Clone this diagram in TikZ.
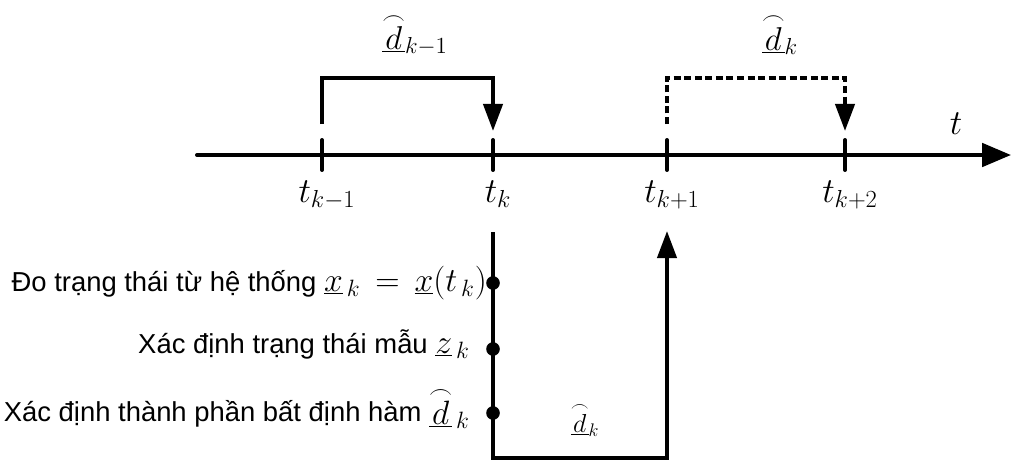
\RequirePackage{fix-cm}
\documentclass[tikz,border=0pt]{standalone}
\usepackage{fontspec}
\newfontfamily\vnfont{Liberation Sans}
\usetikzlibrary{arrows.meta}
\newcommand{\dhat}{\underline{\stackrel{\frown}{d}}}
\newcommand{\lmath}[1]{{\fontsize{24}{28}\selectfont$#1$}}

\begin{document}
\begin{tikzpicture}[x=0.25mm,y=-0.25mm,
  axis/.style={line width=2.8pt,line cap=round,-{Triangle[length=7.2mm,width=5.8mm]}},
  tickmark/.style={line width=2.8pt,line cap=round},
  link/.style={line width=2.8pt,-{Triangle[length=6.8mm,width=4.8mm]}},
  dot/.style={circle,fill=black,inner sep=0pt,minimum size=3.4mm},
  lab/.style={font=\vnfont\fontsize{19.5}{23}\selectfont,inner sep=0pt},
  tlab/.style={font=\fontsize{25}{30}\selectfont,inner sep=0pt}]
  \useasboundingbox (0,0) rectangle (1013,460);
  % time axis
  \coordinate (t0) at (197,155);
  \coordinate (tend) at (1011,155);
  \draw[axis] (t0) -- (tend);
  \node[tlab] (tt) at (956,124) {$t$};
  \foreach \x/\s [count=\i] in {322/{k-1},493/k,667/{k+1},845/{k+2}}{
    \coordinate (t\i) at (\x,155);
    \draw[tickmark] (\x,140) -- (\x,170);
    \node[tlab,anchor=base] (l\i) at (\x+5,202) {$t_{\s}$};
  }
  % delays
  \coordinate (s1) at (322,124);
  \coordinate (e1) at (493,131);
  \coordinate (s2) at (667,124);
  \coordinate (e2) at (845,131);
  \draw[link] (s1) -- ++(0,-46) -| (e1);
  \draw[link,dash pattern=on 5pt off 2.5pt] (s2) -- ++(0,-46) -| (e2);
  \node[tlab,font=\fontsize{23.5}{28}\selectfont] (d1) at (415,35) {$\dhat_{k-1}$};
  \node[tlab,font=\fontsize{23.5}{28}\selectfont] (d2) at (780,35) {$\dhat_{k}$};
  % steps at t_k
  \coordinate (p1) at (493,232);
  \coordinate (p2) at (667,231);
  \draw[link] (p1) -- ++(0,226) -| (p2);
  \node[dot] (m1) at (493,283) {};
  \node[dot] (m2) at (493,349) {};
  \node[dot] (m3) at (493,413) {};
  \node[lab,anchor=base east] (c1) at (487,291) {Đo trạng thái từ hệ thống \lmath{\underline{x}_{\,k}\,=\,\underline{x}(t_{\,k})}};
  \node[lab,anchor=base east] (c2) at (470,353) {Xác định trạng thái mẫu \lmath{\underline{z}_{\,k}}};
  \node[lab,anchor=base east] (c3) at (470,421) {Xác định thành phần bất định hàm \lmath{\dhat_{\,k}}};
  \node[tlab,font=\fontsize{18.5}{22}\selectfont] (d3) at (585,420) {$\dhat_{k}$};
\end{tikzpicture}
\end{document}
